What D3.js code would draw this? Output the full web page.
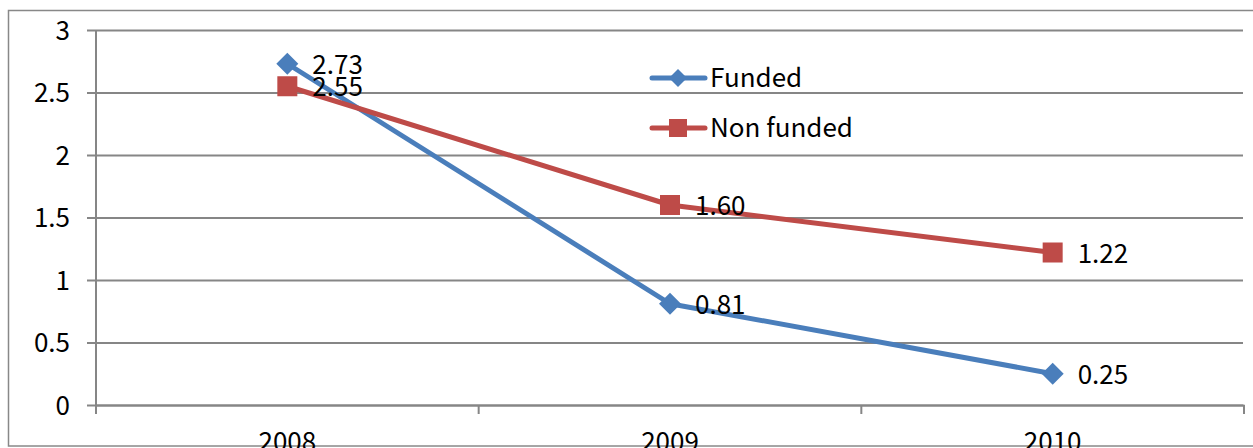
<!DOCTYPE html>
<html><head><meta charset="utf-8">
<script src="https://cdn.jsdelivr.net/npm/d3@7"></script>
<style>
html,body{margin:0;padding:0;background:#fff;overflow:hidden}
svg{display:block}
text{font-family:"Noto Sans CJK KR","Noto Sans",sans-serif;fill:#000}
</style></head>
<body><svg id="c" width="1253" height="448"></svg>
<script>
const categories = ["2008","2009","2010"];
const funded = [2.73, 0.81, 0.25];
const nonFunded = [2.55, 1.60, 1.22];
const yTicks = [0, 0.5, 1, 1.5, 2, 2.5, 3];
const seriesNames = ["Funded", "Non funded"];

const svg = d3.select("#c");
const FS = 26;
const m = {l:96, r:9, t:30, b:43};
const x = d3.scaleBand().domain(categories).range([m.l, 1244]);
const y = d3.scaleLinear().domain([0,3]).range([405, 30]);

// outer border
svg.append("rect").attr("x",8.5).attr("y",10.5).attr("width",1260).attr("height",435.5)
  .attr("fill","none").attr("stroke","#888").attr("stroke-width",1.5);

// gridlines
const gy = svg.append("g").attr("transform",`translate(${m.l},0)`)
  .call(d3.axisLeft(y).tickValues(yTicks).tickSize(9).tickPadding(17).tickFormat(d=>d3.format("")(d)));
gy.select(".domain").remove();
gy.selectAll(".tick line").attr("stroke","#868686").attr("stroke-width",2).attr("x2",1243-m.l).attr("x1",-9);
gy.selectAll(".tick text").attr("font-size",FS).attr("dy","0.36em");

// y axis line
svg.append("line").attr("x1",m.l).attr("x2",m.l).attr("y1",y(3)).attr("y2",y(0)+9)
  .attr("stroke","#868686").attr("stroke-width",2);

// x axis
const gx = svg.append("g").attr("transform",`translate(0,${y(0)})`)
  .call(d3.axisBottom(x).tickSize(0).tickPadding(28));
gx.select(".domain").attr("stroke","#868686").attr("stroke-width",2);
gx.selectAll(".tick text").attr("font-size",FS);
const bounds = categories.map(c=>x(c)).concat([x.range()[1]]);
svg.append("g").selectAll("line").data(bounds).join("line")
  .attr("x1",d=>d).attr("x2",d=>d).attr("y1",y(0)).attr("y2",y(0)+9)
  .attr("stroke","#868686").attr("stroke-width",2);

const cx = c => x(c) + x.bandwidth()/2;
const line = d3.line().x((d,i)=>cx(categories[i])).y(d=>y(d));

const blue = "#4a7ebb", red = "#be4b48";

function diamond(g, px, py, s){
  g.append("path").attr("d",`M${px},${py-s}L${px+s},${py}L${px},${py+s}L${px-s},${py}Z`).attr("fill",blue);
}
function square(g, px, py, s){
  g.append("rect").attr("x",px-s).attr("y",py-s).attr("width",2*s).attr("height",2*s).attr("fill",red);
}

svg.append("path").datum(funded).attr("d",line).attr("fill","none").attr("stroke",blue).attr("stroke-width",5).attr("stroke-linejoin","round");
svg.append("path").datum(nonFunded).attr("d",line).attr("fill","none").attr("stroke",red).attr("stroke-width",5).attr("stroke-linejoin","round");

const mk = svg.append("g");
funded.forEach((v,i)=>diamond(mk, cx(categories[i]), y(v), 11));
nonFunded.forEach((v,i)=>square(mk, cx(categories[i]), y(v), 10));

const lab = svg.append("g");
funded.forEach((v,i)=>lab.append("text").attr("x",cx(categories[i])+25).attr("y",y(v)+10).attr("font-size",FS).text(d3.format(".2f")(v)));
nonFunded.forEach((v,i)=>lab.append("text").attr("x",cx(categories[i])+25).attr("y",y(v)+10).attr("font-size",FS).text(d3.format(".2f")(v)));

const lg = svg.append("g");
const legY = [78, 128];
lg.append("line").attr("x1",652).attr("x2",705).attr("y1",legY[0]).attr("y2",legY[0]).attr("stroke",blue).attr("stroke-width",5).attr("stroke-linecap","round");
diamond(lg, 678, legY[0], 9);
lg.append("text").attr("x",710).attr("y",legY[0]+9).attr("font-size",FS).text(seriesNames[0]);
lg.append("line").attr("x1",652).attr("x2",705).attr("y1",legY[1]).attr("y2",legY[1]).attr("stroke",red).attr("stroke-width",5).attr("stroke-linecap","round");
square(lg, 678, legY[1], 9);
lg.append("text").attr("x",710).attr("y",legY[1]+9).attr("font-size",FS).text(seriesNames[1]);
</script></body></html>
